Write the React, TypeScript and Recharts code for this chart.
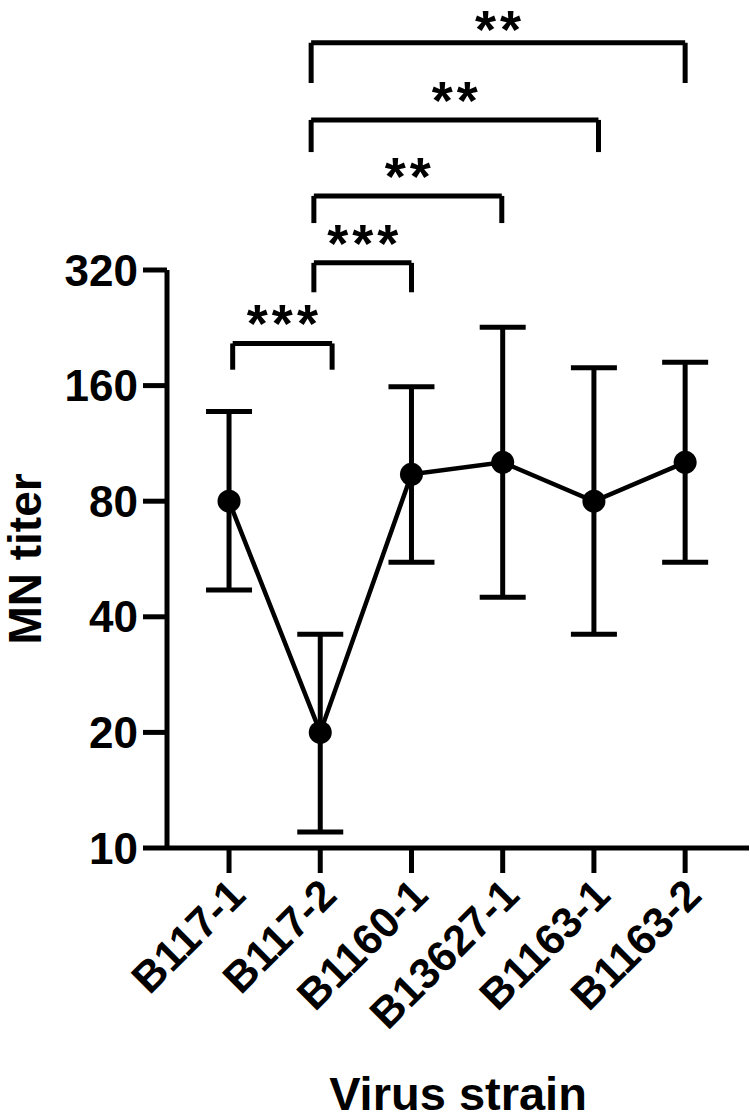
import React from "react";
import { LineChart, Line, XAxis, YAxis, ErrorBar, ReferenceLine, ReferenceDot } from "recharts";

// MN titer per virus strain (geometric mean with 95% CI)
const strains = ["B117-1", "B117-2", "B1160-1", "B13627-1", "B1163-1", "B1163-2"];
const meanTiter = [80, 20, 94, 101, 80, 101];
const upperTiter = [137, 36, 159, 227, 178, 184];
const lowerTiter = [47, 11, 55.5, 45, 36, 55.5];
const titerTicks = [10, 20, 40, 80, 160, 320];

// significance brackets: strain index span, height of bar and feet (titer units), stars
const bracketFrom = [0.04, 0.93, 0.93, 0.9, 0.9];
const bracketTo = [1.13, 2.0, 2.99, 4.05, 5.0];
const bracketTop = [206, 334, 499, 787, 1250];
const bracketFoot = [176, 280, 424, 649, 982];
const bracketStars = ["***", "***", "**", "**", "**"];
const starTiter = [249, 402, 600, 947, 1450];

const rows = strains.map((s, i) => ({
  idx: i,
  titer: meanTiter[i],
  ci: [meanTiter[i] - lowerTiter[i], upperTiter[i] - meanTiter[i]],
}));

const FONT = "'Liberation Sans', Arial, sans-serif";
const INK = "#000";

function StrainTick({ x, y, payload }: any) {
  return (
    <g transform={`translate(${x + 8},${y + 10})`}>
      <text transform="rotate(-45)" textAnchor="end" dominantBaseline="central" fontFamily={FONT} fontWeight="bold" fontSize={43} fill={INK}>
        {strains[payload.value]}
      </text>
    </g>
  );
}

function Stars({ cx, cy, text }: any) {
  const fs = 54;
  return (
    <text x={cx + 2} y={cy + fs * 0.55} textAnchor="middle" fontFamily={FONT} fontWeight="bold" fontSize={fs} letterSpacing={4} fill={INK}>
      {text}
    </text>
  );
}

export default function App() {
  const line = { stroke: INK, strokeWidth: 5 };
  return (
    <div style={{ width: 750, height: 1120, background: "#fff" }}>
      <style>{"body{margin:0}"}</style>
      <LineChart width={750} height={1120} data={rows} margin={{ top: 270, right: 1, bottom: 0, left: 0 }}>
        <XAxis
          type="number"
          dataKey="idx"
          domain={[-0.68, 5.7]}
          allowDataOverflow
          ticks={[0, 1, 2, 3, 4, 5]}
          height={272}
          tickSize={25}
          tickMargin={4}
          axisLine={line}
          tickLine={line}
          tick={<StrainTick />}
          label={{ value: "Virus strain", position: "insideBottom", offset: 10, style: { fontFamily: FONT, fontWeight: "bold", fontSize: 47, fill: INK } }}
        />
        <YAxis
          scale="log"
          domain={[10, 320]}
          allowDataOverflow
          ticks={titerTicks}
          width={167}
          tickSize={24}
          tickMargin={5}
          axisLine={line}
          tickLine={line}
          tick={{ fontFamily: FONT, fontWeight: "bold", fontSize: 44, fill: INK }}
          label={{ value: "MN titer", angle: -90, position: "insideLeft", offset: 25, style: { textAnchor: "middle", fontFamily: FONT, fontWeight: "bold", fontSize: 46, fill: INK } }}
        />
        {bracketTop.map((top, i) => (
          <React.Fragment key={i}>
            <ReferenceLine ifOverflow="visible" stroke={INK} strokeWidth={5} segment={[{ x: bracketFrom[i], y: top }, { x: bracketTo[i], y: top }]} />
            <ReferenceLine ifOverflow="visible" stroke={INK} strokeWidth={5} segment={[{ x: bracketFrom[i], y: top }, { x: bracketFrom[i], y: bracketFoot[i] }]} />
            <ReferenceLine ifOverflow="visible" stroke={INK} strokeWidth={5} segment={[{ x: bracketTo[i], y: top }, { x: bracketTo[i], y: bracketFoot[i] }]} />
            <ReferenceDot
              ifOverflow="visible"
              x={(bracketFrom[i] + bracketTo[i]) / 2}
              y={starTiter[i]}
              r={0}
              shape={(p: any) => <Stars cx={p.cx} cy={p.cy} text={bracketStars[i]} />}
            />
          </React.Fragment>
        ))}
        <Line
          type="linear"
          dataKey="titer"
          stroke={INK}
          strokeWidth={4.5}
          dot={{ r: 11.5, fill: INK, stroke: "none" }}
          activeDot={false}
          isAnimationActive={false}
        >
          <ErrorBar dataKey="ci" direction="y" width={23} stroke={INK} strokeWidth={5} isAnimationActive={false} />
        </Line>
      </LineChart>
    </div>
  );
}
